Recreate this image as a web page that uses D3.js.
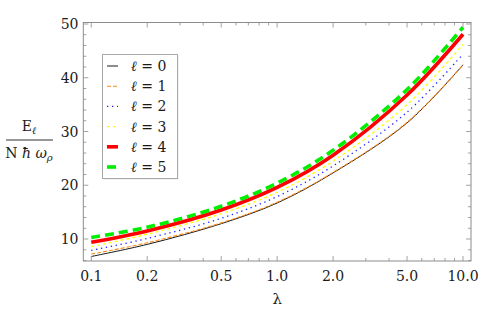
<!DOCTYPE html>
<html>
<head>
<meta charset="utf-8">
<script src="https://cdn.jsdelivr.net/npm/d3@7"></script>
<style>
  html, body { margin: 0; padding: 0; background: #fff; }
  svg { display: block; }
  svg text { fill: #1a1a1a; }
</style>
</head>
<body>
<svg id="chart" width="500" height="311" font-family="'DejaVu Serif', 'Liberation Serif', Tinos, 'Noto Serif', Times, serif"></svg>
<script>
// --- data ---
const lambdas = [0.1, 0.2, 0.5, 1, 2, 5, 10];
const energyL0 = [6.75, 9.0, 12.85, 16.7, 22.3, 31.6, 42.4];
const energyL1 = [7.2, 9.3, 13.0, 16.85, 22.4, 31.7, 42.4];
const energyL2 = [7.9, 10.1, 13.85, 17.9, 23.6, 33.6, 44.4];
const energyL3 = [8.57, 10.9, 14.7, 18.7, 24.5, 35.0, 46.2];
const energyL4 = [9.4, 11.5, 15.4, 19.6, 25.6, 36.8, 48.1];
const energyL5 = [10.3, 12.2, 16.1, 20.4, 26.5, 37.8, 49.4];
const ellLabels = ["0", "1", "2", "3", "4", "5"];
const xTickValues = [0.1, 0.2, 0.5, 1, 2, 5, 10];
const yTickValues = [10, 20, 30, 40, 50];

const seriesValues = [energyL0, energyL1, energyL2, energyL3, energyL4, energyL5];
const styles = [
  { color: "#000000", width: 0.9, dash: null },
  { color: "#ff8c1a", width: 1.1, dash: "4,2" },
  { color: "#2020ff", width: 1.3, dash: "1.3,3.7" },
  { color: "#ffff00", width: 1.3, dash: "3,3" },
  { color: "#ff0000", width: 3.6, dash: null },
  { color: "#00ee00", width: 3.6, dash: "9,5" }
];

const svg = d3.select("#chart");
const frame = { left: 83.3, right: 471, top: 22.5, bottom: 261 };

const x = d3.scaleLog().domain([0.0906, 11.04]).range([frame.left, frame.right]);
const y = d3.scaleLinear().domain([5.91, 50.28]).range([frame.bottom, frame.top]);

// clip
svg.append("defs").append("clipPath").attr("id", "plot-clip")
  .append("rect")
  .attr("x", frame.left).attr("y", frame.top)
  .attr("width", frame.right - frame.left).attr("height", frame.bottom - frame.top);

// --- curves ---
const line = d3.line()
  .x(d => x(d[0]))
  .y(d => y(d[1]))
  .curve(d3.curveCatmullRom.alpha(0.5));

const curves = svg.append("g").attr("clip-path", "url(#plot-clip)");
seriesValues.forEach((vals, i) => {
  const st = styles[i];
  curves.append("path")
    .datum(lambdas.map((l, j) => [l, vals[j]]))
    .attr("d", line)
    .attr("fill", "none")
    .attr("stroke", st.color)
    .attr("stroke-width", st.width)
    .attr("stroke-dasharray", st.dash);
});

// --- frame and ticks ---
const frameColor = "#8c8c8c";
const ticks = svg.append("g").attr("stroke", frameColor).attr("stroke-width", 0.8);

const xMinor = [0.3, 0.4, 0.6, 0.7, 0.8, 0.9, 3, 4, 6, 7, 8, 9];
const yMinor = d3.range(6, 51, 2).filter(v => v % 10 !== 0);

xTickValues.forEach(v => {
  ticks.append("line").attr("x1", x(v)).attr("x2", x(v)).attr("y1", frame.bottom).attr("y2", frame.bottom - 5);
  ticks.append("line").attr("x1", x(v)).attr("x2", x(v)).attr("y1", frame.top).attr("y2", frame.top + 5);
});
xMinor.forEach(v => {
  ticks.append("line").attr("x1", x(v)).attr("x2", x(v)).attr("y1", frame.bottom).attr("y2", frame.bottom - 3);
  ticks.append("line").attr("x1", x(v)).attr("x2", x(v)).attr("y1", frame.top).attr("y2", frame.top + 3);
});
yTickValues.forEach(v => {
  ticks.append("line").attr("x1", frame.left).attr("x2", frame.left + 5).attr("y1", y(v)).attr("y2", y(v));
  ticks.append("line").attr("x1", frame.right).attr("x2", frame.right - 5).attr("y1", y(v)).attr("y2", y(v));
});
yMinor.forEach(v => {
  ticks.append("line").attr("x1", frame.left).attr("x2", frame.left + 3).attr("y1", y(v)).attr("y2", y(v));
  ticks.append("line").attr("x1", frame.right).attr("x2", frame.right - 3).attr("y1", y(v)).attr("y2", y(v));
});

svg.append("rect")
  .attr("x", frame.left).attr("y", frame.top)
  .attr("width", frame.right - frame.left).attr("height", frame.bottom - frame.top)
  .attr("fill", "none").attr("stroke", frameColor).attr("stroke-width", 1);

// tick labels
svg.append("g").selectAll("text")
  .data(xTickValues)
  .join("text")
  .attr("x", d => x(d))
  .attr("y", 281)
  .attr("text-anchor", "middle")
  .attr("font-size", 14)
  .text(d => d.toFixed(1));

svg.append("g").selectAll("text")
  .data(yTickValues)
  .join("text")
  .attr("x", 78.5)
  .attr("y", d => y(d) + 5)
  .attr("text-anchor", "end")
  .attr("font-size", 14)
  .text(d => d);

// axis labels
svg.append("text")
  .attr("x", x(1))
  .attr("y", 304)
  .attr("text-anchor", "middle")
  .attr("font-size", 15)
  .text("λ");

const ylab = svg.append("g");
const num = ylab.append("text").attr("x", 29).attr("y", 131).attr("text-anchor", "middle").attr("font-size", 14);
num.append("tspan").text("E");
num.append("tspan").attr("font-size", 10).attr("font-style", "italic").attr("dy", 3).text("ℓ");
ylab.append("line").attr("x1", 6).attr("x2", 53).attr("y1", 140).attr("y2", 140)
  .attr("stroke", "#1a1a1a").attr("stroke-width", 0.9);
const den = ylab.append("text").attr("x", 29).attr("y", 158).attr("text-anchor", "middle").attr("font-size", 14);
den.append("tspan").text("N ");
den.append("tspan").attr("font-style", "italic").text("ħ ω");
den.append("tspan").attr("font-size", 10).attr("font-style", "italic").attr("dy", 3).text("ρ");

// --- legend ---
const legend = svg.append("g");
legend.append("rect")
  .attr("x", 103.5).attr("y", 55.5).attr("width", 75).attr("height", 124)
  .attr("fill", "#e6e6e6");
legend.append("rect")
  .attr("x", 102.5).attr("y", 54.5).attr("width", 75).attr("height", 124)
  .attr("fill", "#fff").attr("stroke", "#a8a8a8").attr("stroke-width", 1);

ellLabels.forEach((lab, i) => {
  const st = styles[i];
  const ly = 66 + i * 20.2;
  legend.append("line")
    .attr("x1", 107).attr("x2", 118).attr("y1", ly).attr("y2", ly)
    .attr("stroke", st.color)
    .attr("stroke-width", st.width)
    .attr("stroke-dasharray", st.dash);
  const t = legend.append("text").attr("x", 131).attr("y", ly + 5).attr("font-size", 14);
  t.append("tspan").attr("font-style", "italic").text("ℓ");
  t.append("tspan").text(" = " + lab);
});
</script>
</body>
</html>
